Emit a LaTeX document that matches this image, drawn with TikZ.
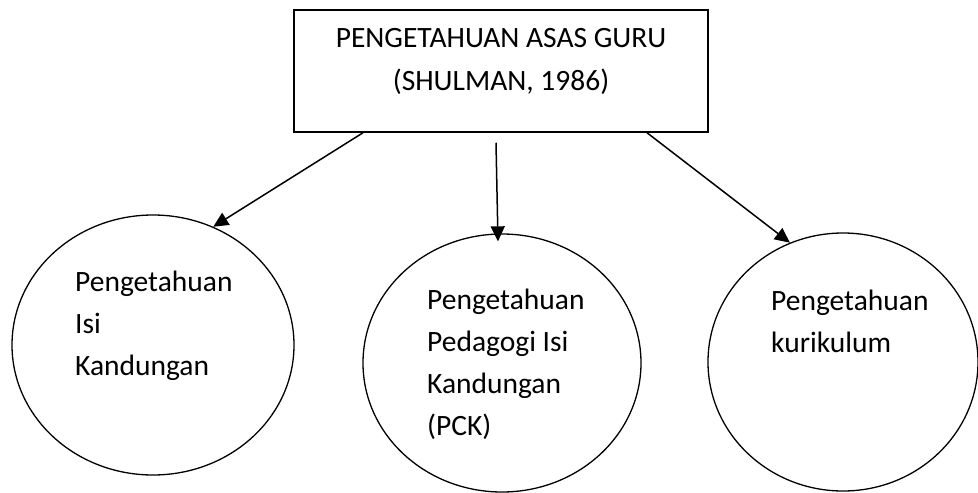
\documentclass[tikz,border=0pt]{standalone}
\usepackage{fontspec}
\setmainfont{Carlito}
\usetikzlibrary{shapes.geometric,arrows.meta}
\begin{document}
\begin{tikzpicture}[x=1pt,y=-1pt,
  line/.style={line width=1.5pt},
  circ/.style={draw,ellipse,line width=1.3pt,inner sep=0pt},
  lbl/.style={font=\fontsize{29.5}{42}\selectfont,inner sep=0pt},
  arr/.style={line width=1.5pt,-{Triangle[length=15pt,width=14pt]}}]
\useasboundingbox (0,0) rectangle (978,493);
\node[draw,line width=1.5pt,minimum width=414pt,minimum height=122pt,inner sep=0pt] (box) at (501,71) {};
\node[lbl,anchor=base] (t1) at (501,47) {PENGETAHUAN ASAS GURU};
\node[lbl,anchor=base] (t2) at (501,90) {(SHULMAN, 1986)};
\node[circ,minimum width=282pt,minimum height=260pt] (L) at (153,345) {};
\node[circ,minimum width=278pt,minimum height=258pt] (M) at (502,363) {};
\node[circ,minimum width=270pt,minimum height=258pt] (R) at (843,362) {};
\node[lbl,anchor=base west,align=left] (lt) at (75,375) {Pengetahuan\\Isi\\Kandungan};
\node[lbl,anchor=base west,align=left] (mt) at (427,435) {Pengetahuan\\Pedagogi Isi\\Kandungan\\(PCK)};
\node[lbl,anchor=base west,align=left] (rt) at (771,352) {Pengetahuan\\kurikulum};
\coordinate (ls) at ([xshift=-138pt]box.south);
\coordinate (ms) at ([xshift=-5pt,yshift=-10pt]box.south);
\coordinate (rs) at ([xshift=146pt]box.south);
\draw[arr] (ls) -- (L.63);
\draw[arr] (ms) -- ([yshift=-8pt,xshift=-4pt]M.north);
\draw[arr] (rs) -- (R.114);
\end{tikzpicture}
\end{document}
